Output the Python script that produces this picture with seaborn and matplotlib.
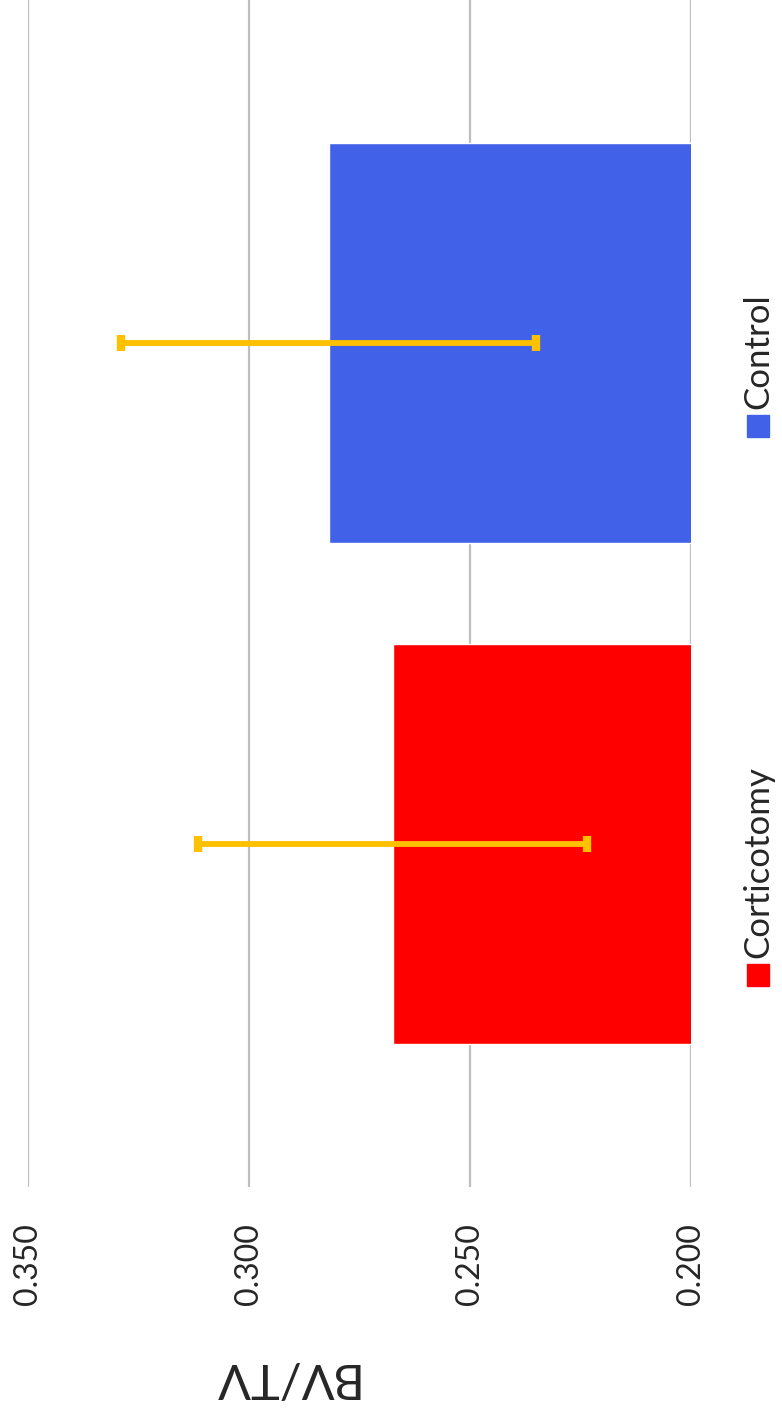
import matplotlib
matplotlib.use("Agg")
import matplotlib.pyplot as plt
from matplotlib.patches import Rectangle
import seaborn as sns

groups = ["Control", "Corticotomy"]
bv_tv_mean = [0.282, 0.2675]
bv_tv_err = [0.047, 0.044]
bar_colors = ["#4162E8", "#FF0000"]
x_ticks = [0.350, 0.300, 0.250, 0.200]
y_label = "BV/TV"

W, H = 782, 1410

sns.set_style("white")
plt.rcParams['font.family'] = ['Lato', 'DejaVu Sans']

fig = plt.figure(figsize=(W / 100, H / 100), dpi=100)

# plot area in pixels: x 28..691, y 0..1187
ax = fig.add_axes([28 / W, 1 - 1187 / H, (691 - 28) / W, 1187 / H])

sns.barplot(x=bv_tv_mean, y=groups, hue=groups, palette=bar_colors,
            orient='h', width=0.8, saturation=1, legend=False, ax=ax, zorder=2)

ax.errorbar(bv_tv_mean, list(range(len(groups))), xerr=bv_tv_err,
            fmt='none', ecolor="#FFC000", elinewidth=4.2,
            capsize=6, capthick=6, zorder=3)

# value axis runs right-to-left (chart is turned on its side)
ax.set_xlim(0.35, 0.20)
ax.set_ylim(1.686, -0.686)
ax.set_xticks(x_ticks)
ax.set_xticklabels([f"{v:.3f}" for v in x_ticks], rotation=90, fontsize=23)
ax.tick_params(axis='x', length=0, pad=26)
ax.set_yticks([])
ax.set_xlabel("")
ax.set_ylabel("")

ax.grid(axis='x', color="#BEBEBE", linewidth=1.6, zorder=0)
ax.set_axisbelow(True)
for s in ax.spines.values():
    s.set_visible(False)

# axis title, upside down
fig.text(283 / W, 1 - 1377 / H, y_label, rotation=180, fontsize=35,
         ha='center', va='center')

# legend, written bottom-to-top along the right side
legend_pos = {"Control": 426, "Corticotomy": 975}
for name, color in zip(groups, bar_colors):
    cy = legend_pos[name]
    fig.patches.append(Rectangle(((758 - 11) / W, 1 - (cy + 11) / H), 22 / W, 22 / H,
                                 transform=fig.transFigure, color=color))
    fig.text(758 / W, 1 - (cy - 17) / H, name, rotation=90, fontsize=25,
             ha='center', va='bottom')

fig.savefig("out.png", dpi=100)
